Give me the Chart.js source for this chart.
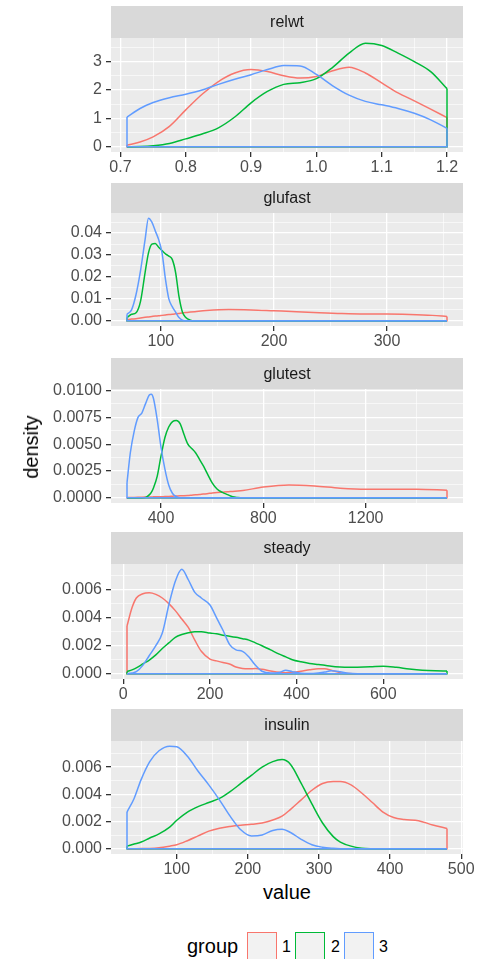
<!DOCTYPE html>
<html>
<head>
<meta charset="utf-8">
<script src="https://cdn.jsdelivr.net/npm/chart.js@4.4.1/dist/chart.umd.min.js"></script>
<style>
  html, body { margin: 0; padding: 0; background: #fff; overflow: hidden; }
  #wrap { position: relative; width: 479px; height: 959px; font-family: "Liberation Sans", Arial, sans-serif; }
  canvas { position: absolute; left: 0; }
  .txt { position: absolute; white-space: nowrap; }
  .key { position: absolute; box-sizing: border-box; width: 30px; height: 30px; background: #F2F2F2; border: 1.5px solid; }
</style>
</head>
<body>
<div id="wrap">
  <canvas id="p1" width="479" height="170"></canvas>
  <canvas id="p2" width="479" height="167"></canvas>
  <canvas id="p3" width="479" height="169"></canvas>
  <canvas id="p4" width="479" height="171"></canvas>
  <canvas id="p5" width="479" height="169"></canvas>
  <div class="txt" id="ytitle" style="left:31px; top:447px; font-size:20px; line-height:20px; color:#000; transform:translate(-50%,-50%) rotate(-90deg);">density</div>
  <div class="txt" style="left:287px; top:882px; font-size:20px; line-height:20px; color:#000; transform:translateX(-50%);">value</div>
  <div class="txt" style="left:187px; top:936px; font-size:20px; line-height:20px; color:#000;">group</div>
  <div class="key" style="left:247px; top:932px; border-color:#F8766D;"></div>
  <div class="txt" style="left:282px; top:939px; font-size:16px; line-height:16px; color:#000;">1</div>
  <div class="key" style="left:295px; top:932px; border-color:#00BA38;"></div>
  <div class="txt" style="left:331px; top:939px; font-size:16px; line-height:16px; color:#000;">2</div>
  <div class="key" style="left:344px; top:932px; border-color:#619CFF;"></div>
  <div class="txt" style="left:379px; top:939px; font-size:16px; line-height:16px; color:#000;">3</div>
</div>
<script>
// group colours (ggplot hue palette)
var groupColors = ['#F8766D', '#00BA38', '#619CFF'];

// relwt
var relwtX = [0.71, 0.73, 0.75, 0.775, 0.80, 0.825, 0.85, 0.875, 0.90, 0.925, 0.95, 0.975, 1.00, 1.025, 1.05, 1.075, 1.10, 1.125, 1.15, 1.175, 1.20];
var relwt1 = [0.06, 0.17, 0.35, 0.72, 1.3, 1.85, 2.3, 2.6, 2.72, 2.65, 2.5, 2.42, 2.48, 2.68, 2.8, 2.6, 2.25, 1.9, 1.62, 1.33, 1.03];
var relwt2 = [0.0, 0.01, 0.04, 0.12, 0.28, 0.45, 0.67, 1.05, 1.55, 1.95, 2.2, 2.26, 2.4, 2.8, 3.3, 3.65, 3.57, 3.3, 3.0, 2.65, 2.05];
var relwt3 = [1.05, 1.35, 1.56, 1.73, 1.85, 2.0, 2.2, 2.38, 2.54, 2.72, 2.86, 2.85, 2.55, 2.15, 1.82, 1.6, 1.48, 1.35, 1.18, 0.95, 0.65];
var relwtXTicks = [0.7, 0.8, 0.9, 1.0, 1.1, 1.2];
var relwtXLabels = ['0.7', '0.8', '0.9', '1.0', '1.1', '1.2'];
var relwtXMinor = [0.75, 0.85, 0.95, 1.05, 1.15];
var relwtYTicks = [0, 1, 2, 3];
var relwtYLabels = ['0', '1', '2', '3'];
var relwtYMinor = [0.5, 1.5, 2.5, 3.5];

// glufast
var glufastX = [70, 74, 78, 82, 86, 89, 92, 95, 98, 101, 104, 107, 110, 113, 116, 119, 122, 126, 130, 140, 160, 180, 200, 220, 240, 260, 280, 300, 320, 340, 353];
var glufast1 = [.0005, .0008, .001, .0013, .0016, .0018, .002, .0022, .0023, .0025, .0027, .0029, .003, .0032, .0034, .0036, .0038, .004, .0042, .0047, .0052, .005, .0046, .0042, .0037, .0033, .0031, .0031, .0029, .0025, .002];
var glufast2 = [.0015, .003, .0037, .009, .022, .031, .035, .0353, .0335, .032, .0305, .0295, .028, .022, .011, .004, .0015, .0003, 0, 0, 0, 0, 0, 0, 0, 0, 0, 0, 0, 0, 0];
var glufast3 = [.003, .005, .012, .023, .037, .0468, .045, .041, .037, .031, .019, .010, .0065, .004, .0015, .0003, 0, 0, 0, 0, 0, 0, 0, 0, 0, 0, 0, 0, 0, 0, 0];
var glufastXTicks = [100, 200, 300];
var glufastXLabels = ['100', '200', '300'];
var glufastXMinor = [150, 250, 350];
var glufastYTicks = [0, 0.01, 0.02, 0.03, 0.04];
var glufastYLabels = ['0.00', '0.01', '0.02', '0.03', '0.04'];
var glufastYMinor = [0.005, 0.015, 0.025, 0.035, 0.045];

// glutest
var glutestX = [267, 280, 295, 310, 325, 340, 355, 362, 370, 385, 400, 415, 430, 445, 460, 475, 490, 505, 520, 535, 550, 565, 580, 600, 620, 640, 660, 680, 700, 720, 800, 900, 1000, 1100, 1200, 1300, 1400, 1518];
var glutest1 = [.00002, .00003, .00004, .00005, .00006, .00007, .00008, .00008, .00009, .0001, .0001, .00012, .00013, .00015, .00017, .00019, .0002, .00022, .00025, .00028, .0003, .00035, .00038, .00045, .0005, .00053, .00056, .0006, .00063, .00068, .001, .0012, .0011, .0009, .0008, .0008, .0008, .0007];
var glutest2 = [0, 0, 0, 0, 0, .00004, .0003, .0005, .0009, .002, .0039, .0056, .0066, .0071, .0072, .0069, .0059, .005, .0046, .0042, .0036, .003, .0023, .0014, .0008, .0005, .0003, .0001, .00003, 0, 0, 0, 0, 0, 0, 0, 0, 0];
var glutest3 = [.0014, .0042, .0062, .0075, .0079, .0088, .0096, .00966, .0093, .0073, .0047, .0027, .0012, .0004, .0001, 0, 0, 0, 0, 0, 0, 0, 0, 0, 0, 0, 0, 0, 0, 0, 0, 0, 0, 0, 0, 0, 0, 0];
var glutestXTicks = [400, 800, 1200];
var glutestXLabels = ['400', '800', '1200'];
var glutestXMinor = [600, 1000, 1400];
var glutestYTicks = [0, 0.0025, 0.005, 0.0075, 0.01];
var glutestYLabels = ['0.0000', '0.0025', '0.0050', '0.0075', '0.0100'];
var glutestYMinor = [0.00125, 0.00375, 0.00625, 0.00875];

// steady
var steadyX = [8.5, 20, 30, 45, 60, 75, 90, 105, 120, 135, 150, 165, 180, 200, 215, 230, 245, 260, 275, 290, 305, 320, 340, 360, 375, 390, 410, 430, 450, 465, 480, 500, 520, 540, 570, 600, 630, 660, 690, 720, 747];
var steady1 = [.0034, .0047, .0054, .0057, .00577, .00566, .0054, .005, .0045, .0039, .0033, .0024, .0016, .00105, .00092, .0008, .0007, .00048, .00038, .00036, .00037, .00032, .0002, .0001, .00007, .0001, .00018, .00028, .00035, .00035, .00025, .00008, .00002, 0, 0, 0, 0, 0, 0, 0, 0];
var steady2 = [.00015, .00028, .00042, .0007, .00098, .00135, .0018, .0022, .0026, .0028, .00292, .003, .003, .0029, .00285, .00275, .00268, .0026, .0025, .0024, .0022, .002, .0017, .0014, .0012, .001, .00085, .00074, .00066, .0006, .00053, .00048, .00046, .00047, .0005, .00054, .00046, .00034, .00025, .00021, .0002];
var steady3 = [0, .00005, .00015, .0006, .0013, .002, .0029, .0049, .0066, .00745, .0067, .0058, .0054, .0049, .004, .0031, .0021, .0017, .0016, .0012, .0006, .00018, .00006, .0001, .00025, .00015, .00004, .00002, .00006, .00012, .00022, .00015, .00003, 0, 0, 0, 0, 0, 0, 0, 0];
var steadyXTicks = [0, 200, 400, 600];
var steadyXLabels = ['0', '200', '400', '600'];
var steadyXMinor = [100, 300, 500, 700];
var steadyYTicks = [0, 0.002, 0.004, 0.006];
var steadyYLabels = ['0.000', '0.002', '0.004', '0.006'];
var steadyYMinor = [0.001, 0.003, 0.005, 0.007];

// insulin
var insulinX = [30, 40, 50, 62, 75, 90, 100, 115, 130, 145, 160, 175, 190, 205, 220, 235, 248, 260, 275, 290, 305, 320, 330, 345, 360, 375, 390, 405, 420, 440, 460, 480];
var insulin1 = [0, .00001, .00002, .00003, .00008, .0002, .0003, .0006, .00095, .0013, .00152, .00165, .00174, .0018, .0019, .00212, .0024, .0029, .0036, .0043, .0048, .00495, .00495, .0047, .0041, .0034, .0027, .0023, .00216, .00207, .00175, .0015];
var insulin2 = [.0002, .00035, .0005, .0008, .0011, .0016, .0021, .0027, .0031, .0034, .0037, .0042, .0048, .0054, .006, .0064, .00655, .0062, .0048, .0033, .0019, .0009, .0005, .0002, .00005, .00001, 0, 0, 0, 0, 0, 0];
var insulin3 = [.0027, .0037, .0051, .0064, .0072, .00754, .0075, .0068, .0057, .0047, .0036, .0024, .0014, .00095, .00102, .00135, .00144, .0012, .0007, .0003, .00012, .00004, .00001, 0, 0, 0, 0, 0, 0, 0, 0, 0];
var insulinXTicks = [100, 200, 300, 400, 500];
var insulinXLabels = ['100', '200', '300', '400', '500'];
var insulinXMinor = [50, 150, 250, 350, 450];
var insulinYTicks = steadyYTicks;
var insulinYLabels = steadyYLabels;
var insulinYMinor = steadyYMinor;

Chart.defaults.font.family = '"Liberation Sans", Arial, sans-serif';
Chart.defaults.font.size = 16;
Chart.defaults.color = '#4D4D4D';

// grey panel + facet strip
var panelStrip = {
    id: 'panelStrip',
    beforeDraw: function (chart, args, opts) {
        var ctx = chart.ctx, a = chart.chartArea;
        ctx.save();
        ctx.fillStyle = '#EBEBEB';
        ctx.fillRect(a.left, a.top, a.right - a.left, a.bottom - a.top);
        ctx.fillStyle = '#D9D9D9';
        ctx.fillRect(a.left, a.top - opts.height, a.right - a.left, opts.height);
        ctx.fillStyle = '#1A1A1A';
        ctx.font = '16px "Liberation Sans", Arial, sans-serif';
        ctx.textAlign = 'center';
        ctx.textBaseline = 'middle';
        ctx.fillText(opts.text, (a.left + a.right) / 2, a.top - opts.height / 2 + 1);
        ctx.restore();
    }
};

function tickList(major, labels, minor) {
    var t = [];
    major.forEach(function (v, i) { t.push({ value: v, text: labels[i], minor: false }); });
    minor.forEach(function (v) { t.push({ value: v, text: '', minor: true }); });
    t.sort(function (a, b) { return a.value - b.value; });
    return t;
}

function expand(lo, hi) {
    var d = (hi - lo) * 0.05;
    return [lo - d, hi + d];
}

var gridOpts = {
    color: '#FFFFFF',
    lineWidth: function (c) { return c.tick && c.tick.minor ? 0.6 : 1.3; },
    drawTicks: true,
    tickLength: 5,
    tickWidth: 1.3,
    tickColor: function (c) { return c.tick && c.tick.minor ? 'rgba(0,0,0,0)' : '#333333'; }
};

function makePanel(id, top, stripH, name, xs, series, xt, xl, xm, yt, yl, ym) {
    var cv = document.getElementById(id);
    cv.style.top = top + 'px';
    var xr = expand(xs[0], xs[xs.length - 1]);
    var ymax = 0;
    series.forEach(function (s) { s.forEach(function (v) { if (v > ymax) ymax = v; }); });
    var yr = expand(0, ymax);
    var datasets = [];
    series.forEach(function (ys, g) {
        var pts = xs.map(function (x, i) { return { x: x, y: ys[i] }; });
        datasets.push({
            data: pts,
            borderColor: groupColors[g],
            borderWidth: 1.5,
            pointRadius: 0,
            fill: false,
            cubicInterpolationMode: 'monotone',
            order: 2 - g
        });
        // polygon closure: sides and baseline
        var n = xs.length - 1;
        datasets.push({
            data: [{ x: xs[0], y: ys[0] }, { x: xs[0], y: 0 }, { x: xs[n], y: 0 }, { x: xs[n], y: ys[n] }],
            borderColor: groupColors[g],
            borderWidth: 1.5,
            pointRadius: 0,
            fill: false,
            tension: 0,
            order: 2 - g
        });
    });
    return new Chart(cv, {
        type: 'line',
        data: { datasets: datasets },
        options: {
            responsive: false,
            animation: false,
            devicePixelRatio: 1,
            layout: { padding: { top: stripH, right: 16, left: 0, bottom: 0 } },
            plugins: {
                legend: { display: false },
                tooltip: { enabled: false },
                panelStrip: { text: name, height: stripH }
            },
            scales: {
                x: {
                    type: 'linear',
                    min: xr[0], max: xr[1],
                    afterBuildTicks: function (s) { s.ticks = tickList(xt, xl, xm); },
                    afterFit: function (s) { s.height = 24; },
                    grid: gridOpts,
                    border: { display: false },
                    ticks: {
                        autoSkip: false, maxRotation: 0, padding: 1, color: '#4D4D4D',
                        callback: function (v, i, t) { return t[i].text; }
                    }
                },
                y: {
                    type: 'linear',
                    min: yr[0], max: yr[1],
                    afterBuildTicks: function (s) { s.ticks = tickList(yt, yl, ym); },
                    afterFit: function (s) { s.width = 111; },
                    grid: gridOpts,
                    border: { display: false },
                    ticks: {
                        autoSkip: false, padding: 4, color: '#4D4D4D',
                        callback: function (v, i, t) { return t[i].text; }
                    }
                }
            }
        },
        plugins: [panelStrip]
    });
}

makePanel('p1', 6, 32, 'relwt', relwtX, [relwt1, relwt2, relwt3], relwtXTicks, relwtXLabels, relwtXMinor, relwtYTicks, relwtYLabels, relwtYMinor);
makePanel('p2', 183, 30, 'glufast', glufastX, [glufast1, glufast2, glufast3], glufastXTicks, glufastXLabels, glufastXMinor, glufastYTicks, glufastYLabels, glufastYMinor);
makePanel('p3', 358, 31, 'glutest', glutestX, [glutest1, glutest2, glutest3], glutestXTicks, glutestXLabels, glutestXMinor, glutestYTicks, glutestYLabels, glutestYMinor);
makePanel('p4', 532, 32, 'steady', steadyX, [steady1, steady2, steady3], steadyXTicks, steadyXLabels, steadyXMinor, steadyYTicks, steadyYLabels, steadyYMinor);
makePanel('p5', 709, 32, 'insulin', insulinX, [insulin1, insulin2, insulin3], insulinXTicks, insulinXLabels, insulinXMinor, insulinYTicks, insulinYLabels, insulinYMinor);
</script>
</body>
</html>
